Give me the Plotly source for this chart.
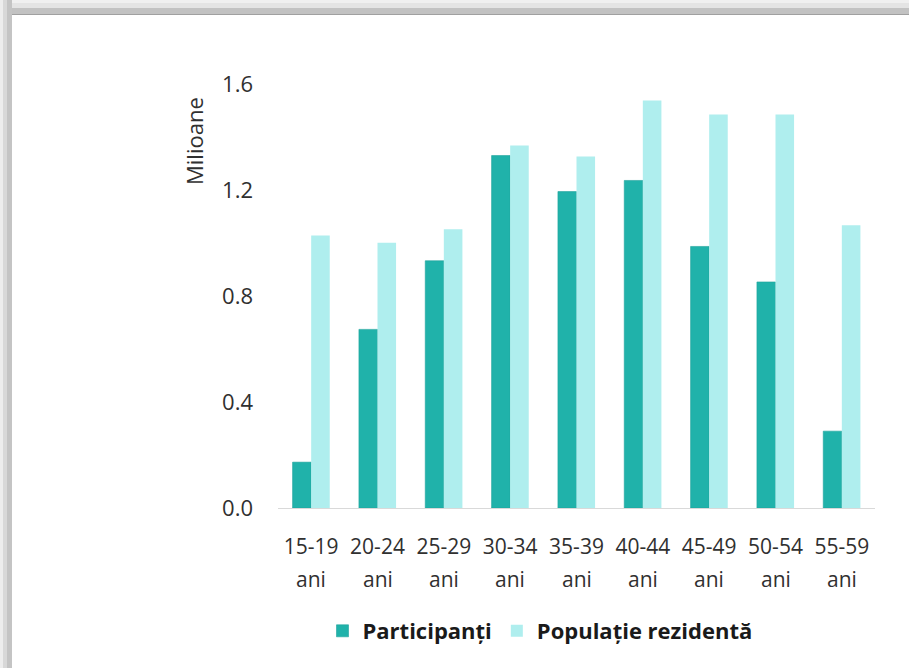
import plotly.graph_objects as go

# Age groups and values (millions of people)
age_groups = ["15-19", "20-24", "25-29", "30-34", "35-39", "40-44", "45-49", "50-54", "55-59"]
age_suffix = "ani"
participanti = [0.173, 0.674, 0.933, 1.330, 1.194, 1.236, 0.987, 0.853, 0.290]
populatie = [1.028, 1.001, 1.052, 1.368, 1.326, 1.538, 1.485, 1.485, 1.067]
y_ticks = [0.0, 0.4, 0.8, 1.2, 1.6]

W, H = 909, 668
ML, MR, MT, MB = 278, 34, 84, 160
PW, PH = W - ML - MR, H - MT - MB


def px_x(p):
    return (p - ML) / PW


def px_y(p):
    return (H - MB - p) / PH


FONT = "Open Sans"
TXT = "#303030"

fig = go.Figure()
fig.add_trace(go.Bar(x=age_groups, y=participanti, name="Participanți",
                     marker=dict(color="#20B2AA", line=dict(color="#1ea39c", width=0.6))))
fig.add_trace(go.Bar(x=age_groups, y=populatie, name="Populație rezidentă",
                     marker=dict(color="#AFEEEE", line=dict(width=0))))

# second line of each category label
annotations = [
    dict(x=g, y=px_y(579), xref="x", yref="paper", text=age_suffix, showarrow=False,
         yanchor="middle", xanchor="center", font=dict(family=FONT, size=21, color=TXT))
    for g in age_groups
]
annotations.append(dict(x=px_x(194), y=px_y(141), xref="paper", yref="paper", text="Milioane",
                        textangle=-90, showarrow=False, xanchor="center", yanchor="middle",
                        font=dict(family=FONT, size=22, color=TXT)))

# shadowed frame along the top and left edges
def band(x0, y0, x1, y1, color):
    return dict(type="rect", xref="paper", yref="paper", x0=px_x(x0), x1=px_x(x1),
                y0=px_y(y0), y1=px_y(y1), fillcolor=color, line=dict(width=0), layer="below")


shapes = [
    band(0, 0, W, 15, "#c2c2c2"),
    band(0, 0, W, 8, "#e4e4e4"),
    band(0, 0, W, 3, "#f0f0f0"),
    band(12, 14, W, 15, "#a0a0a0"),
    band(0, 0, 12, H, "#c4c4c4"),
    band(0, 0, 7, H, "#d8d8d8"),
    band(0, 0, 3, H, "#ededed"),
]

fig.update_layout(
    width=W, height=H,
    margin=dict(l=ML, r=MR, t=MT, b=MB),
    paper_bgcolor="white", plot_bgcolor="white",
    barmode="group", bargap=0.44, bargroupgap=0,
    font=dict(family=FONT, size=22, color=TXT),
    showlegend=True,
    legend=dict(orientation="h", x=px_x(540), xanchor="center", y=px_y(631), yanchor="middle",
                font=dict(family=FONT, size=22, color="#1a1a1a", weight="bold"),
                itemclick=False, tracegroupgap=0, bgcolor="rgba(0,0,0,0)"),
    xaxis=dict(range=[-0.5, 8.5], showgrid=False, zeroline=False, showline=True,
               linecolor="#d9d9d9", linewidth=1, ticks="", ticklabelstandoff=20,
               tickfont=dict(family=FONT, size=21, color=TXT), fixedrange=True),
    yaxis=dict(range=[0, 1.6], tickvals=y_ticks, ticktext=[f"{v:.1f}" for v in y_ticks],
               showgrid=False, zeroline=False, showline=False, ticks="",
               ticklabelstandoff=24, tickfont=dict(family=FONT, size=22, color=TXT),
               fixedrange=True),
    annotations=annotations,
    shapes=shapes,
)

fig.write_html("out.html")
